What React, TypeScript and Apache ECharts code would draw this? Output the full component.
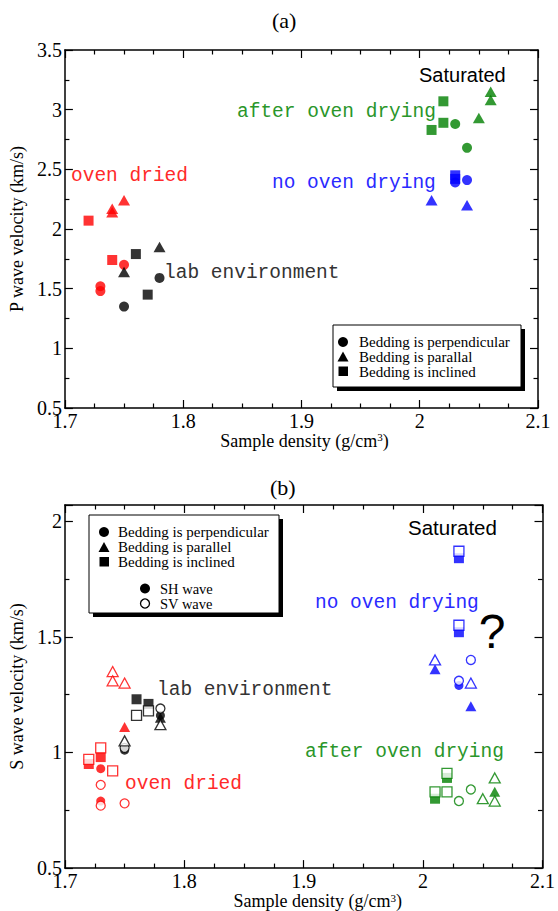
import React, { useEffect, useRef } from "react";
import * as echarts from "echarts";

const SERIF = "'Liberation Serif', 'Times New Roman', serif";
const MONO = "'Liberation Mono', 'Courier New', monospace";
const SANS = "'Liberation Sans', Arial, sans-serif";

const RED = "#ff0000";
const GREEN = "#008000";
const BLUE = "#0000ff";
const BLACK = "#000000";

// ---------- axis ticks ----------
const xTicks = [1.7, 1.8, 1.9, 2.0, 2.1];
const pTicks = [0.5, 1, 1.5, 2, 2.5, 3, 3.5];
const sTicks = [0.5, 1, 1.5, 2];

// ---------- (a) P wave velocity: [density, velocity] ----------
const pOvenDriedCircle = [[1.73, 1.52], [1.73, 1.48], [1.75, 1.7]];
const pOvenDriedTriangle = [[1.74, 2.17], [1.74, 2.14], [1.75, 2.24]];
const pOvenDriedSquare = [[1.72, 2.07], [1.74, 1.74]];
const pLabCircle = [[1.75, 1.35], [1.78, 1.59]];
const pLabTriangle = [[1.75, 1.64], [1.78, 1.85]];
const pLabSquare = [[1.76, 1.79], [1.77, 1.45]];
const pAfterCircle = [[2.03, 2.88], [2.04, 2.68]];
const pAfterTriangle = [[2.05, 2.93], [2.06, 3.15], [2.06, 3.08]];
const pAfterSquare = [[2.01, 2.83], [2.02, 2.89], [2.02, 3.07]];
const pNoOvenCircle = [[2.03, 2.39], [2.04, 2.41]];
const pNoOvenTriangle = [[2.01, 2.24], [2.04, 2.2]];
const pNoOvenSquare = [[2.03, 2.45], [2.03, 2.42]];

// ---------- (b) S wave velocity: SH = filled, SV = open ----------
const sOvenSHCircle = [[1.73, 0.93], [1.73, 0.79]];
const sOvenSVCircle = [[1.73, 0.86], [1.73, 0.77], [1.75, 0.78]];
const sOvenSHTriangle = [[1.75, 1.11]];
const sOvenSVTriangle = [[1.74, 1.35], [1.74, 1.31], [1.75, 1.3]];
const sOvenSHSquare = [[1.72, 0.95], [1.73, 0.98]];
const sOvenSVSquare = [[1.72, 0.97], [1.73, 1.02], [1.74, 0.92]];

const sLabSHCircle = [[1.75, 1.01], [1.78, 1.16]];
const sLabSVCircle = [[1.75, 1.02], [1.78, 1.19]];
const sLabSHTriangle = [[1.78, 1.15]];
const sLabSVTriangle = [[1.75, 1.05], [1.78, 1.12]];
const sLabSHSquare = [[1.76, 1.23], [1.77, 1.21]];
const sLabSVSquare = [[1.76, 1.16], [1.77, 1.18]];

const sNoOvenSHCircle = [[2.03, 1.29]];
const sNoOvenSVCircle = [[2.03, 1.31], [2.04, 1.4]];
const sNoOvenSHTriangle = [[2.01, 1.36], [2.04, 1.2]];
const sNoOvenSVTriangle = [[2.01, 1.4], [2.04, 1.3]];
const sNoOvenSHSquare = [[2.03, 1.84], [2.03, 1.52]];
const sNoOvenSVSquare = [[2.03, 1.87], [2.03, 1.55]];

const sAfterSVCircle = [[2.03, 0.79], [2.04, 0.84]];
const sAfterSHTriangle = [[2.06, 0.83]];
const sAfterSVTriangle = [[2.05, 0.8], [2.06, 0.89], [2.06, 0.79]];
const sAfterSHSquare = [[2.02, 0.89], [2.01, 0.8]];
const sAfterSVSquare = [[2.02, 0.91], [2.01, 0.83], [2.02, 0.83]];

type Shape = "circle" | "triangle" | "rect";

function sizeOf(shape: Shape, panel: number): any {
  if (panel === 0) {
    if (shape === "circle") return 10;
    if (shape === "rect") return 10;
    return [12, 10.5];
  }
  if (shape === "circle") return 9;
  if (shape === "rect") return 10;
  return [11, 10];
}

function sc(name: string, data: number[][], shape: Shape, color: string, filled: boolean, panel: number) {
  return {
    name,
    type: "scatter",
    xAxisIndex: panel * 2,
    yAxisIndex: panel * 2,
    symbol: shape,
    symbolSize: sizeOf(shape, panel),
    data,
    itemStyle: filled
      ? { color, borderWidth: 0 }
      : { color: "#ffffff", borderColor: color, borderWidth: 1.3 },
    z: filled ? 3 : 4,
  };
}

const fmtHalf = (v: number) => (pTicks.concat(sTicks).some((t) => Math.abs(t - v) < 1e-6) ? String(+v.toFixed(2)) : "");
const fmtX = (v: number) => (xTicks.some((t) => Math.abs(t - v) < 1e-6) ? String(+v.toFixed(2)) : "");

function xAx(grid: number, position: string, show: boolean, nameShift: number) {
  return {
    type: "value",
    gridIndex: grid,
    position,
    min: 1.7,
    max: 2.1,
    interval: 0.1,
    axisLine: { show: true, onZero: false, lineStyle: { color: BLACK, width: 1.5 } },
    axisTick: { show: true, inside: true, length: 8, lineStyle: { color: BLACK, width: 1.2 } },
    minorTick: { show: true, splitNumber: 4, length: 4.5, lineStyle: { color: BLACK, width: 1.2 } },
    splitLine: { show: false },
    minorSplitLine: { show: false },
    axisLabel: { show, margin: 3, fontFamily: SERIF, fontSize: 20, color: BLACK, formatter: fmtX },
    name: show ? "Sample density (g/cm{sup|3})" : "",
    nameLocation: "middle",
    nameGap: grid === 0 ? 23 : 21,
    nameTextStyle: {
      fontFamily: SERIF,
      fontSize: 18,
      color: BLACK,
      padding: [0, 0, 0, nameShift],
      rich: { sup: { fontFamily: SERIF, fontSize: 11, color: BLACK, verticalAlign: "top" } },
    },
  };
}

function yAx(grid: number, position: string, show: boolean, min: number, max: number, name: string) {
  return {
    type: "value",
    gridIndex: grid,
    position,
    min,
    max,
    interval: 0.5,
    axisLine: { show: true, onZero: false, lineStyle: { color: BLACK, width: 1.5 } },
    axisTick: { show: true, inside: true, length: 8, lineStyle: { color: BLACK, width: 1.2 } },
    minorTick: { show: true, splitNumber: 2, length: 4.5, lineStyle: { color: BLACK, width: 1.2 } },
    splitLine: { show: false },
    minorSplitLine: { show: false },
    axisLabel: {
      show,
      margin: 3,
      fontFamily: SERIF,
      fontSize: 20,
      color: BLACK,
      formatter: fmtHalf,
      showMaxLabel: max % 0.5 === 0,
      padding: [0, 0, 4, 0],
    },
    name: show ? name : "",
    nameLocation: "middle",
    nameGap: 34,
    nameTextStyle: { fontFamily: SERIF, fontSize: 18, color: BLACK },
  };
}

function txt(x: number, y: number, text: string, fill: string, font: string, size: number, align = "left") {
  return {
    type: "text",
    x,
    y,
    z: 10,
    style: { text, fill, fontFamily: font, fontSize: size, align, verticalAlign: "middle" },
  };
}

function legendBox(x: number, y: number, w: number, h: number) {
  return [
    { type: "rect", z: 8, shape: { x: x + 4, y: y + 4, width: w, height: h }, style: { fill: BLACK } },
    { type: "rect", z: 9, shape: { x, y, width: w, height: h }, style: { fill: "#fff", stroke: BLACK, lineWidth: 1 } },
  ];
}

function tri(cx: number, cy: number, w: number, h: number) {
  return {
    type: "polygon",
    z: 10,
    shape: { points: [[cx - w / 2, cy + h / 2], [cx + w / 2, cy + h / 2], [cx, cy - h / 2]] },
    style: { fill: BLACK },
  };
}

export default function App() {
  const ref = useRef<HTMLDivElement>(null);
  useEffect(() => {
    if (!ref.current) return;
    const chart = echarts.init(ref.current, null, { renderer: "svg" });
    const option: any = {
      animation: false,
      backgroundColor: "#ffffff",
      title: [
        { text: "(a)", left: 272, top: 9, padding: 0, textStyle: { fontFamily: SERIF, fontSize: 22, fontWeight: "normal", color: BLACK } },
        { text: "(b)", left: 270, top: 476, padding: 0, textStyle: { fontFamily: SERIF, fontSize: 22, fontWeight: "normal", color: BLACK } },
      ],
      grid: [
        { left: 60, top: 50, width: 478, height: 358, containLabel: false },
        { left: 60.5, top: 505, width: 486, height: 364, containLabel: false },
      ],
      xAxis: [xAx(0, "bottom", true, 6), xAx(0, "top", false, 0), xAx(1, "bottom", true, 28), xAx(1, "top", false, 0)],
      yAxis: [
        yAx(0, "left", true, 0.5, 3.5, "P wave velocity (km/s)"),
        yAx(0, "right", false, 0.5, 3.5, ""),
        yAx(1, "left", true, 0.5, 2.07, "S wave velocity (km/s)"),
        yAx(1, "right", false, 0.5, 2.07, ""),
      ],
      series: [
        sc("oven dried circle", pOvenDriedCircle, "circle", RED, true, 0),
        sc("oven dried triangle", pOvenDriedTriangle, "triangle", RED, true, 0),
        sc("oven dried square", pOvenDriedSquare, "rect", RED, true, 0),
        sc("lab circle", pLabCircle, "circle", BLACK, true, 0),
        sc("lab triangle", pLabTriangle, "triangle", BLACK, true, 0),
        sc("lab square", pLabSquare, "rect", BLACK, true, 0),
        sc("after circle", pAfterCircle, "circle", GREEN, true, 0),
        sc("after triangle", pAfterTriangle, "triangle", GREEN, true, 0),
        sc("after square", pAfterSquare, "rect", GREEN, true, 0),
        sc("no oven circle", pNoOvenCircle, "circle", BLUE, true, 0),
        sc("no oven triangle", pNoOvenTriangle, "triangle", BLUE, true, 0),
        sc("no oven square", pNoOvenSquare, "rect", BLUE, true, 0),

        sc("oven SH circle", sOvenSHCircle, "circle", RED, true, 1),
        sc("oven SH triangle", sOvenSHTriangle, "triangle", RED, true, 1),
        sc("oven SH square", sOvenSHSquare, "rect", RED, true, 1),
        sc("lab SH circle", sLabSHCircle, "circle", BLACK, true, 1),
        sc("lab SH triangle", sLabSHTriangle, "triangle", BLACK, true, 1),
        sc("lab SH square", sLabSHSquare, "rect", BLACK, true, 1),
        sc("no oven SH circle", sNoOvenSHCircle, "circle", BLUE, true, 1),
        sc("no oven SH triangle", sNoOvenSHTriangle, "triangle", BLUE, true, 1),
        sc("no oven SH square", sNoOvenSHSquare, "rect", BLUE, true, 1),
        sc("after SH triangle", sAfterSHTriangle, "triangle", GREEN, true, 1),
        sc("after SH square", sAfterSHSquare, "rect", GREEN, true, 1),

        sc("oven SV circle", sOvenSVCircle, "circle", RED, false, 1),
        sc("oven SV triangle", sOvenSVTriangle, "triangle", RED, false, 1),
        sc("oven SV square", sOvenSVSquare, "rect", RED, false, 1),
        sc("lab SV circle", sLabSVCircle, "circle", BLACK, false, 1),
        sc("lab SV triangle", sLabSVTriangle, "triangle", BLACK, false, 1),
        sc("lab SV square", sLabSVSquare, "rect", BLACK, false, 1),
        sc("no oven SV circle", sNoOvenSVCircle, "circle", BLUE, false, 1),
        sc("no oven SV triangle", sNoOvenSVTriangle, "triangle", BLUE, false, 1),
        sc("no oven SV square", sNoOvenSVSquare, "rect", BLUE, false, 1),
        sc("after SV circle", sAfterSVCircle, "circle", GREEN, false, 1),
        sc("after SV triangle", sAfterSVTriangle, "triangle", GREEN, false, 1),
        sc("after SV square", sAfterSVSquare, "rect", GREEN, false, 1),
      ],
      graphic: [
        // annotations (a)
        txt(419, 75, "Saturated", BLACK, SANS, 20),
        txt(237, 112, "after oven drying", "#2a962a", MONO, 19.5),
        txt(272, 183, "no oven drying", "#2a2aff", MONO, 19.5),
        txt(71, 176, "oven dried", "#ff2a2a", MONO, 19.5),
        txt(164, 273, "lab environment", "#333333", MONO, 19.5),
        // legend (a)
        ...legendBox(333, 325, 188, 62),
        { type: "circle", z: 10, shape: { cx: 343, cy: 342, r: 5 }, style: { fill: BLACK } },
        tri(343, 356.5, 11, 10),
        { type: "rect", z: 10, shape: { x: 338.5, y: 366.5, width: 9.5, height: 9.5 }, style: { fill: BLACK } },
        txt(359, 342, "Bedding is perpendicular", BLACK, SERIF, 15),
        txt(359, 356.5, "Bedding is parallal", BLACK, SERIF, 15),
        txt(359, 371.5, "Bedding is inclined", BLACK, SERIF, 15),

        // annotations (b)
        txt(408, 527, "Saturated", BLACK, SANS, 20.5),
        txt(315, 603, "no oven drying", "#2a2aff", MONO, 19.5),
        txt(492, 631, "?", BLACK, SANS, 48, "center"),
        txt(157, 690, "lab environment", "#333333", MONO, 19.5),
        txt(125, 784, "oven dried", "#ff2a2a", MONO, 19.5),
        txt(305, 752, "after oven drying", "#2a962a", MONO, 19.5),
        // legend (b)
        ...legendBox(89, 515, 190, 98),
        { type: "circle", z: 10, shape: { cx: 104, cy: 532, r: 5 }, style: { fill: BLACK } },
        tri(104, 547, 11, 10),
        { type: "rect", z: 10, shape: { x: 99.5, y: 557, width: 9.5, height: 9.5 }, style: { fill: BLACK } },
        txt(118, 532, "Bedding is perpendicular", BLACK, SERIF, 15),
        txt(118, 547, "Bedding is parallel", BLACK, SERIF, 15),
        txt(118, 562, "Bedding is inclined", BLACK, SERIF, 15),
        { type: "circle", z: 10, shape: { cx: 145, cy: 588.5, r: 5 }, style: { fill: BLACK } },
        { type: "circle", z: 10, shape: { cx: 145, cy: 603.5, r: 4.5 }, style: { fill: "#fff", stroke: BLACK, lineWidth: 1.3 } },
        txt(160, 588.5, "SH wave", BLACK, SERIF, 14.5),
        txt(160, 603.5, "SV wave", BLACK, SERIF, 14.5),
      ],
    };
    chart.setOption(option);
    return () => chart.dispose();
  }, []);
  return (
    <div
      ref={ref}
      style={{ position: "fixed", left: 0, top: 0, width: 558, height: 911, background: "#ffffff" }}
    />
  );
}
